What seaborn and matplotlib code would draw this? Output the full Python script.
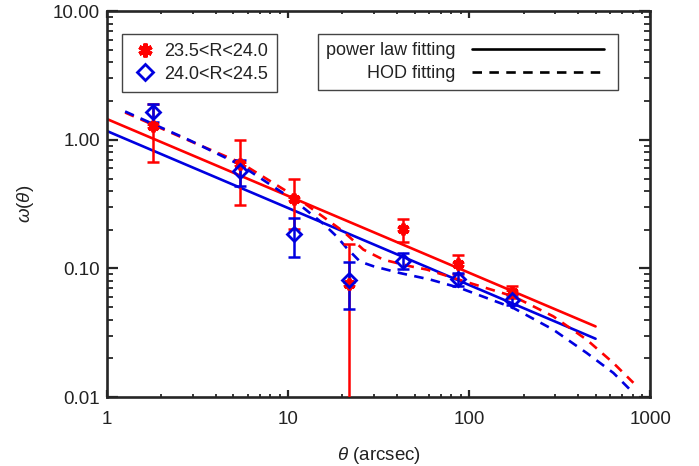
import numpy as np
import pandas as pd
import seaborn as sns
import matplotlib.pyplot as plt
from matplotlib.lines import Line2D

# measured angular correlation, two magnitude bins
theta = [1.80, 5.43, 10.8, 21.7, 43.4, 87.3, 173.5]
w_red = [1.28, 0.65, 0.348, 0.075, 0.202, 0.109, 0.066]
err_red = [0.61, 0.34, 0.147, 0.08, 0.041, 0.018, 0.007]
w_blue = [1.64, 0.567, 0.185, 0.0807, 0.115, 0.083, 0.057]
err_blue = [0.26, 0.13, 0.062, 0.032, 0.016, 0.0095, 0.0048]

# power law fits (straight in log-log, end points)
pl_theta = [1.0, 500.0]
pl_red = [1.45, 0.0354]
pl_blue = [1.17, 0.0284]

# HOD model curves
hod_theta_red = [1.26, 2.87, 5.43, 10.8, 13.8, 20.2, 26.1, 33.6, 47.2, 58.4,
                 101, 176, 292, 447, 627, 809]
hod_red = [1.63, 0.98, 0.667, 0.367, 0.286, 0.194, 0.140, 0.117, 0.104, 0.098,
           0.077, 0.0606, 0.0424, 0.0279, 0.0184, 0.0129]
hod_theta_blue = [1.26, 2.87, 5.43, 10.7, 15.7, 18.6, 21.1, 25.0, 29.6, 41.6,
                  60.9, 89.2, 176, 292, 447, 627, 776]
hod_blue = [1.66, 0.99, 0.64, 0.342, 0.222, 0.177, 0.144, 0.113, 0.104, 0.092,
            0.082, 0.0704, 0.0492, 0.0334, 0.022, 0.0154, 0.0114]

bins = ['23.5<R<24.0', '24.0<R<24.5']
fit_labels = ['power law fitting', 'HOD fitting']
xticks = [1, 10, 100, 1000]
xticklabels = ['1', '10', '100', '1000']
yticks = [0.01, 0.1, 1, 10]
yticklabels = ['0.01', '0.10', '1.00', '10.00']

RED = '#ff0000'
BLUE = '#0000e0'

sns.set_style('ticks')
plt.rcParams['font.family'] = ['Liberation Sans', 'DejaVu Sans']
plt.rcParams['mathtext.fontset'] = 'custom'
plt.rcParams['mathtext.rm'] = 'Liberation Sans'
plt.rcParams['mathtext.it'] = 'Liberation Sans:italic'

fig = plt.figure(figsize=(6.99, 4.66), dpi=100)
ax = fig.add_axes([0.153, 0.148, 0.777, 0.828])

lw = 1.9
dash = (0, (3.6, 2.8))
pl_df = pd.DataFrame({'theta': pl_theta * 2, 'w': pl_red + pl_blue,
                      'bin': [bins[0]] * 2 + [bins[1]] * 2})
for b, c in zip(bins, [RED, BLUE]):
    sub = pl_df[pl_df['bin'] == b]
    sns.lineplot(data=sub, x='theta', y='w', color=c, lw=lw, ax=ax,
                 sort=False, estimator=None)

sns.lineplot(x=hod_theta_red, y=hod_red, color=RED, lw=lw, ls=dash,
             ax=ax, sort=False, estimator=None)
sns.lineplot(x=hod_theta_blue, y=hod_blue, color=BLUE, lw=lw, ls=dash,
             ax=ax, sort=False, estimator=None)

ax.errorbar(theta, w_red, yerr=err_red, fmt='none', ecolor=RED, elinewidth=1.8,
            capsize=4, capthick=1.8, zorder=4)
ax.errorbar(theta, w_blue, yerr=err_blue, fmt='none', ecolor=BLUE, elinewidth=1.8,
            capsize=4, capthick=1.8, zorder=5)
ax.plot(theta, w_red, ls='none', marker=(6, 2, 0), ms=8.5, mew=2.8, color=RED, zorder=6)
ax.plot(theta, w_blue, ls='none', marker='D', ms=7, mew=2, mfc='none',
        mec=BLUE, zorder=7)

ax.set_xscale('log')
ax.set_yscale('log')
ax.set_xlim(1, 1000)
ax.set_ylim(0.01, 10)
ax.set_xticks(xticks)
ax.set_xticklabels(xticklabels)
ax.set_yticks(yticks)
ax.set_yticklabels(yticklabels)
ax.tick_params(axis='both', which='both', direction='in', top=True, right=True,
               labelsize=13.5, labelcolor='#222222')
ax.tick_params(axis='x', which='major', length=5, width=1.6, pad=10)
ax.tick_params(axis='x', which='minor', length=2.5, width=1.3)
ax.tick_params(axis='y', which='major', length=8, width=1.6, pad=5)
ax.tick_params(axis='y', which='minor', length=4, width=1.3)
for s in ax.spines.values():
    s.set_linewidth(1.9)

ax.set_xlabel(r'$\theta$ (arcsec)', fontsize=13.5, color='#222222', labelpad=12)
ax.set_ylabel(r'$\omega$($\theta$)', fontsize=13.5, color='#222222', labelpad=12)

h1 = [Line2D([], [], ls='none', marker=(6, 2, 0), ms=10, mew=3, color=RED),
      Line2D([], [], ls='none', marker='D', ms=8, mew=2, mfc='none', mec=BLUE)]
leg1 = ax.legend(h1, bins, loc='upper left', bbox_to_anchor=(0.028, 0.940),
                 borderaxespad=0, fontsize=13, handlelength=1.5, handletextpad=0.3,
                 borderpad=0.5, labelspacing=0.3, frameon=True, fancybox=False,
                 edgecolor='#444444', framealpha=1)
leg1.get_frame().set_linewidth(1.0)
for t in leg1.get_texts():
    t.set_color('#222222')
ax.add_artist(leg1)

h2 = [Line2D([], [], color='black', lw=lw),
      Line2D([], [], color='black', lw=lw, ls=dash)]
leg2 = ax.legend(h2, fit_labels, loc='upper left',
                 bbox_to_anchor=(0.389, 0.0, 0.552, 0.940), mode='expand',
                 borderaxespad=0, fontsize=13, handlelength=7.3, handletextpad=0.9,
                 borderpad=0.45, labelspacing=0.3, markerfirst=False, frameon=True,
                 fancybox=False, edgecolor='#444444', framealpha=1)
leg2.get_frame().set_linewidth(1.0)
for t in leg2.get_texts():
    t.set_color('#222222')

fig.savefig('out.png', dpi=100)
